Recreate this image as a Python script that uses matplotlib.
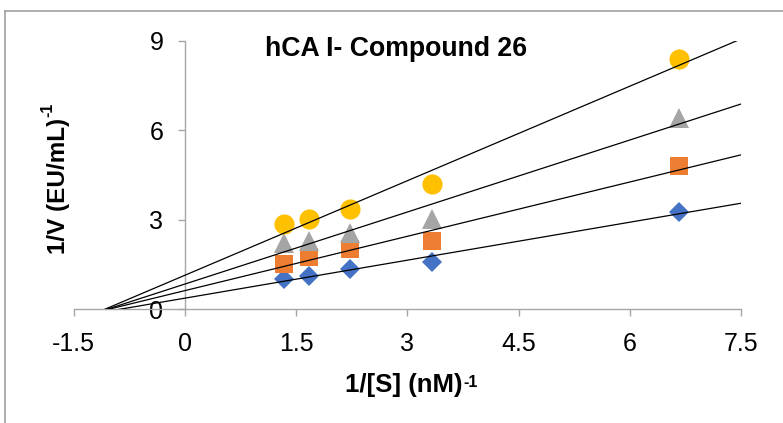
import numpy as np
import matplotlib
matplotlib.use("Agg")
import matplotlib.pyplot as plt
from matplotlib.lines import Line2D
from matplotlib.transforms import IdentityTransform

plt.rcParams['font.family'] = ['Liberation Sans', 'DejaVu Sans']

# Data (1/[S] in nM^-1, 1/V in (EU/mL)^-1)
inv_s = [1.33, 1.67, 2.22, 3.33, 6.67]
y_diamond = [1.00, 1.11, 1.34, 1.57, 3.27]
y_square = [1.51, 1.74, 2.01, 2.29, 4.79]
y_triangle = [2.20, 2.28, 2.55, 3.02, 6.41]
y_circle = [2.84, 3.01, 3.35, 4.19, 8.38]
x_ticks = [-1.5, 0, 1.5, 3, 4.5, 6, 7.5]
x_tick_labels = ["-1.5", "0", "1.5", "3", "4.5", "6", "7.5"]
y_ticks = [0, 3, 6, 9]
trend_x_range = [-1.1, 7.5]

W, H = 783, 423
fig = plt.figure(figsize=(W / 100, H / 100), dpi=100)
ax = fig.add_axes([73.7 / W, 1 - 309 / H, (741 - 73.7) / W, (309 - 41) / H])

styles = [
    (y_diamond, 'D', '#4472C4', 10.2),
    (y_square, 's', '#ED7D31', 13.5),
    (y_triangle, '^', '#A5A5A5', 14.5),
    (y_circle, 'o', '#FFC000', 14.5),
]
xs = np.array(inv_s)
xl = np.array(trend_x_range)
for ys, mk, col, ms in styles:
    ax.plot(inv_s, ys, linestyle='none', marker=mk, color=col, markersize=ms,
            markeredgewidth=0, zorder=2)
for ys, mk, col, ms in styles:
    slope, icpt = np.polyfit(xs, np.array(ys), 1)
    ax.plot(xl, slope * xl + icpt, color='black', linewidth=0.9, zorder=3)

ax.set_xlim(-1.5, 7.5)
ax.set_ylim(0, 9)
ax.set_xticks(x_ticks)
ax.set_xticklabels(x_tick_labels)
ax.set_yticks(y_ticks)

axis_col = '#A6A6A6'
ax.spines['left'].set_position(('data', 0))
ax.spines['bottom'].set_position(('data', 0))
ax.spines['top'].set_visible(False)
ax.spines['right'].set_visible(False)
for s in ('left', 'bottom'):
    ax.spines[s].set_color(axis_col)
    ax.spines[s].set_linewidth(1.0)
ax.tick_params(axis='both', direction='out', length=4.7, width=1.0, color=axis_col,
               labelsize=18, labelcolor='black')
ax.tick_params(axis='y', pad=10.8)
ax.tick_params(axis='x', pad=11.5)

px = IdentityTransform()
# y-axis label (rotated)
ylab = fig.text(65, H - 186, '1/V (EU/mL)', rotation=90, rotation_mode='anchor',
                ha='center', va='baseline', fontsize=17.5, fontweight='bold',
                transform=px)
# x-axis label
xlab = fig.text(403.5, H - 391.7, '1/[S] (nM)', ha='center', va='baseline',
                fontsize=18.5, fontweight='bold', transform=px)
# title
fig.text(396.5, H - 56, 'hCA I- Compound 26', ha='center', va='baseline',
         fontsize=19.2, fontweight='bold', transform=px)

# superscripts placed right after the label texts
fig.canvas.draw()
r = fig.canvas.get_renderer()
yb = ylab.get_window_extent(r)
xb = xlab.get_window_extent(r)
fig.text(52, yb.y1 + 1, '-1', rotation=90, rotation_mode='anchor',
         ha='left', va='baseline', fontsize=11.5, fontweight='bold', transform=px)
fig.text(xb.x1 + 1, H - 387.3, '-1', ha='left', va='baseline',
         fontsize=11.5, fontweight='bold', transform=px)

# outer chart border (top and left edges visible)
fig.add_artist(Line2D([5 / W, 5 / W], [0, 1 - 11 / H], transform=fig.transFigure,
                      color='#A0A0A0', linewidth=1.2))
fig.add_artist(Line2D([5 / W, 1], [1 - 11 / H, 1 - 11 / H], transform=fig.transFigure,
                      color='#A0A0A0', linewidth=1.2))

fig.savefig('out.png', dpi=100)
